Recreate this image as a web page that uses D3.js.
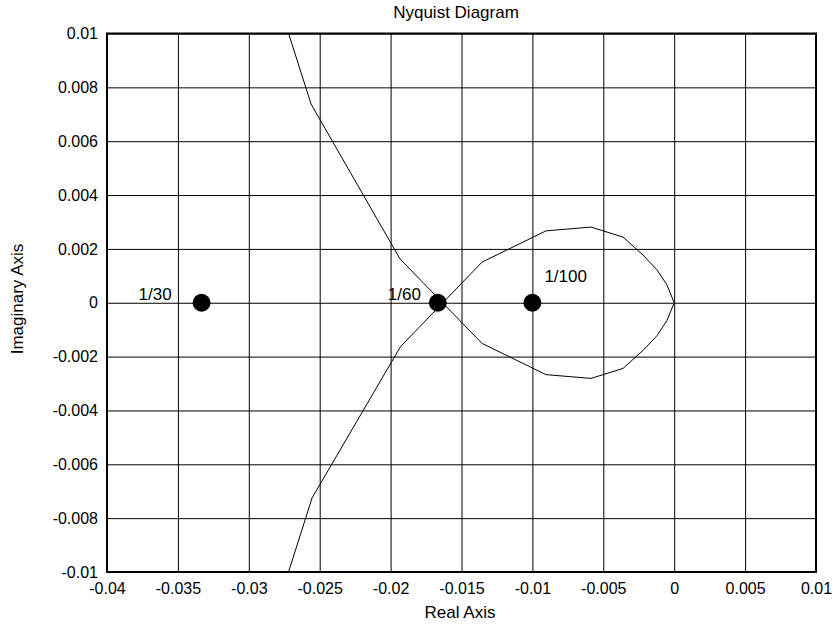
<!DOCTYPE html>
<html>
<head>
<meta charset="utf-8">
<script src="https://cdn.jsdelivr.net/npm/d3@7"></script>
<style>
  body { margin: 0; background: #fff; }
  text { font-family: "Liberation Sans", Arial, sans-serif; fill: #000; }
</style>
</head>
<body>
<div class="chart"></div>
<script>
var svgWidth = 833;
var svgHeight = 627;

var margin = {
  top: 33.5,
  right: 17,
  bottom: 55,
  left: 107
};

var width = svgWidth - margin.left - margin.right;
var height = svgHeight - margin.top - margin.bottom;

// Nyquist curve (real / imaginary parts)
var curveRe = [-0.0281, -0.02561, -0.01934, -0.01355, -0.00904, -0.00587, -0.00361, -0.00220, -0.00121, -0.00051, 0,
  -0.00051, -0.00121, -0.00220, -0.00361, -0.00587, -0.00904, -0.01355, -0.01930, -0.02554, -0.0281];
var curveIm = [0.0115, 0.00738, 0.00163, -0.00151, -0.00267, -0.00281, -0.00244, -0.00177, -0.00122, -0.00066, 0,
  0.00066, 0.00122, 0.00177, 0.00244, 0.00281, 0.00267, 0.00151, -0.00163, -0.00725, -0.0115];

// marked points on the real axis
var markRe = [-0.03333, -0.01667, -0.01];
var markIm = [0, 0, 0];
var markLabels = ["1/30", "1/60", "1/100"];

// ticks
var xTicks = [-0.04, -0.035, -0.03, -0.025, -0.02, -0.015, -0.01, -0.005, 0, 0.005, 0.01];
var xTickLabels = ["-0.04", "-0.035", "-0.03", "-0.025", "-0.02", "-0.015", "-0.01", "-0.005", "0", "0.005", "0.01"];
var yTicks = [-0.01, -0.008, -0.006, -0.004, -0.002, 0, 0.002, 0.004, 0.006, 0.008, 0.01];
var yTickLabels = ["-0.01", "-0.008", "-0.006", "-0.004", "-0.002", "0", "0.002", "0.004", "0.006", "0.008", "0.01"];

var svg = d3.select(".chart")
  .append("svg")
  .attr("width", svgWidth)
  .attr("height", svgHeight);

var chartGroup = svg.append("g")
  .attr("transform", `translate(${margin.left}, ${margin.top})`);

var xScale = d3.scaleLinear()
  .domain([-0.04, 0.01])
  .range([0, width]);

var yScale = d3.scaleLinear()
  .domain([-0.01, 0.01])
  .range([height, 0]);

// grid + tick labels
var bottomAxis = d3.axisBottom(xScale)
  .tickValues(xTicks)
  .tickFormat((d, i) => xTickLabels[i])
  .tickSize(-height)
  .tickPadding(11);

var leftAxis = d3.axisLeft(yScale)
  .tickValues(yTicks)
  .tickFormat((d, i) => yTickLabels[i])
  .tickSize(-width)
  .tickPadding(9);

var xAxisG = chartGroup.append("g")
  .attr("transform", `translate(0, ${height})`)
  .call(bottomAxis);

var yAxisG = chartGroup.append("g")
  .call(leftAxis);

[xAxisG, yAxisG].forEach(function(g) {
  g.select(".domain").remove();
  g.selectAll(".tick line").attr("stroke", "#000").attr("stroke-width", 1);
  g.selectAll(".tick text")
    .attr("font-size", 16)
    .attr("font-family", "Liberation Sans, Arial, sans-serif")
    .attr("fill", "#000");
});

// clip for the curve
svg.append("defs").append("clipPath")
  .attr("id", "plotClip")
  .append("rect")
  .attr("width", width)
  .attr("height", height);

var line = d3.line()
  .x(d => xScale(d[0]))
  .y(d => yScale(d[1]));

chartGroup.append("path")
  .datum(d3.zip(curveRe, curveIm))
  .attr("clip-path", "url(#plotClip)")
  .attr("fill", "none")
  .attr("stroke", "#000")
  .attr("stroke-width", 1)
  .attr("d", line);

// frame
chartGroup.append("rect")
  .attr("width", width)
  .attr("height", height)
  .attr("fill", "none")
  .attr("stroke", "#000")
  .attr("stroke-width", 2);

// marked points
var marks = d3.zip(markRe, markIm, markLabels);
var labelOffset = [[-63, -3], [-50, -3], [12, -21]];

chartGroup.selectAll(".mark")
  .data(marks)
  .enter()
  .append("circle")
  .attr("class", "mark")
  .attr("cx", d => xScale(d[0]))
  .attr("cy", d => yScale(d[1]))
  .attr("r", 9)
  .attr("fill", "#000");

chartGroup.selectAll(".markText")
  .data(marks)
  .enter()
  .append("text")
  .attr("class", "markText")
  .attr("x", (d, i) => xScale(d[0]) + labelOffset[i][0])
  .attr("y", (d, i) => yScale(d[1]) + labelOffset[i][1])
  .attr("font-size", 17)
  .text(d => d[2]);

// title and axis labels
svg.append("text")
  .attr("x", 456)
  .attr("y", 18)
  .attr("text-anchor", "middle")
  .attr("font-size", 17)
  .text("Nyquist Diagram");

svg.append("text")
  .attr("x", 460)
  .attr("y", 618)
  .attr("text-anchor", "middle")
  .attr("font-size", 17)
  .text("Real Axis");

svg.append("text")
  .attr("transform", "rotate(-90)")
  .attr("x", -299)
  .attr("y", 23)
  .attr("text-anchor", "middle")
  .attr("font-size", 17)
  .text("Imaginary Axis");
</script>
</body>
</html>
